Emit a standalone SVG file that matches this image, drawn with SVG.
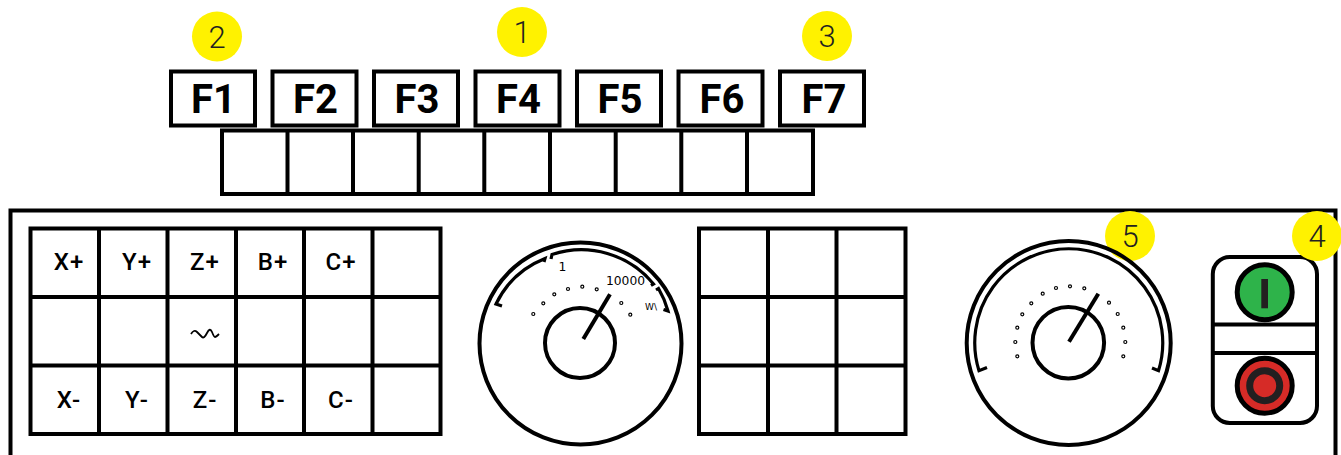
<svg xmlns="http://www.w3.org/2000/svg" width="1341" height="455" viewBox="0 0 1341 455">
<style>
.b{fill:#fff;stroke:#000;stroke-width:4}
.l{fill:none;stroke:#000;stroke-width:4}
.t{fill:none;stroke:#000;stroke-width:3.200}
.f{font-family:Roboto,"Liberation Sans",sans-serif;font-weight:700;font-size:40px;text-anchor:middle;fill:#000}
.k{font-family:Roboto,"Liberation Sans",sans-serif;font-weight:500;font-size:24px;text-anchor:middle;fill:#000;letter-spacing:1px}
.n{font-family:Roboto,"Liberation Sans",sans-serif;font-weight:300;font-size:31px;text-anchor:middle;fill:#231f20}
.s{font-family:"DejaVu Sans",sans-serif;font-size:12.300px;text-anchor:middle;fill:#000}
.w{font-size:9px}
.d{fill:#fff;stroke:#000;stroke-width:1.200}
.y{fill:#fff200}
</style>
<rect width="1341" height="455" fill="#fff"/>
<g id="panel"><path class="l" d="M10.500 460V210.500H1335.500V460"/></g>
<g id="fkeys">
<g id="f1"><rect class="b" x="171" y="71.500" width="84" height="54"/><text class="f" x="213.500" y="113">F1</text></g>
<g id="f2"><rect class="b" x="272.500" y="71.500" width="84" height="54"/><text class="f" x="315.500" y="113">F2</text></g>
<g id="f3"><rect class="b" x="374" y="71.500" width="84" height="54"/><text class="f" x="417" y="113">F3</text></g>
<g id="f4"><rect class="b" x="475.500" y="71.500" width="84" height="54"/><text class="f" x="518.500" y="113">F4</text></g>
<g id="f5"><rect class="b" x="577" y="71.500" width="84" height="54"/><text class="f" x="620" y="113">F5</text></g>
<g id="f6"><rect class="b" x="678.500" y="71.500" width="84" height="54"/><text class="f" x="722" y="113">F6</text></g>
<g id="f7"><rect class="b" x="780" y="71.500" width="84" height="54"/><text class="f" x="824" y="113">F7</text></g>
</g>
<g id="softkeys"><rect class="b" x="222" y="130.500" width="591" height="63.500"/><path class="l" d="M287.500 130V194M353 130V194M418.700 130V194M484.300 130V194M550 130V194M615.700 130V194M681.300 130V194M747 130V194"/></g>
<g id="axis-grid"><rect class="b" x="30.500" y="228.500" width="410" height="205.500"/><path class="l" d="M99 228V434M167.500 228V434M236 228V434M304 228V434M372.500 228V434M30 297H441M30 365.500H441"/>
<text class="k" x="69" y="270">X+</text><text class="k" x="137" y="270">Y+</text><text class="k" x="205" y="270">Z+</text><text class="k" x="273" y="270">B+</text><text class="k" x="341" y="270">C+</text>
<text class="k" x="69" y="408">X-</text><text class="k" x="137" y="408">Y-</text><text class="k" x="205" y="408">Z-</text><text class="k" x="273" y="408">B-</text><text class="k" x="341" y="408">C-</text>
<path fill="none" stroke="#000" stroke-width="1.800" d="M191 334Q194 329 197 332T202 337 207 333 212 332 215 337 219 334"/></g>
<g id="right-grid"><rect class="b" x="699" y="228.500" width="206.500" height="205.500"/><path class="l" d="M768 228V434M836.500 228V434M699 297H906M699 365.500H906"/></g>
<g id="gauge-left"><circle class="b" cx="580.500" cy="343.500" r="101"/><circle class="l" cx="580" cy="343" r="35"/>
<path class="t" d="M502 306L496 304A92 92 0 0 1 545 258.500L544 262M551 259L552 254.500A93 93 0 0 1 653.500 284L651 285.500M656 290L658.500 288.500A94 94 0 0 1 668 311L663.500 309.500"/>
<path class="l" d="M583.300 339L610 294.300"/>
<g class="d"><circle cx="533.300" cy="314" r="1.500"/><circle cx="543.300" cy="303.300" r="1.500"/><circle cx="554.300" cy="294.300" r="1.500"/><circle cx="568" cy="289" r="1.500"/><circle cx="582.300" cy="286.700" r="1.500"/><circle cx="596.700" cy="289.300" r="1.500"/><circle cx="621.300" cy="303" r="1.500"/><circle cx="630.300" cy="314.700" r="1.500"/></g>
<text class="s" x="562.500" y="271">1</text><text class="s" x="625.500" y="285">10000</text><text class="s w" x="651" y="310">W\</text></g>
<g id="badge-5"><circle class="y" cx="1130" cy="236" r="25"/><text class="n" x="1130" y="247">5</text></g>
<g id="gauge-right"><circle cx="1068.700" cy="343" r="102" fill="none" stroke="#000" stroke-width="4"/><circle class="l" cx="1068.300" cy="342.700" r="35.800"/>
<path class="t" d="M987 367.500L979 370.700A94 94 0 1 1 1158.500 370.700L1152 368"/>
<path class="l" d="M1069 341.700L1098.300 293.700"/>
<g class="d"><circle cx="1017.300" cy="356.300" r="1.500"/><circle cx="1015.300" cy="342" r="1.500"/><circle cx="1017.300" cy="327.700" r="1.500"/><circle cx="1022.300" cy="314.300" r="1.500"/><circle cx="1031.300" cy="303.300" r="1.500"/><circle cx="1042.700" cy="293.700" r="1.500"/><circle cx="1056" cy="288" r="1.500"/><circle cx="1070" cy="286.300" r="1.500"/><circle cx="1084.300" cy="288.300" r="1.500"/><circle cx="1109" cy="302.700" r="1.500"/><circle cx="1117.700" cy="314" r="1.500"/><circle cx="1123.300" cy="327.700" r="1.500"/><circle cx="1125.300" cy="342" r="1.500"/><circle cx="1123.300" cy="356.300" r="1.500"/></g></g>
<g id="buttons"><rect class="b" x="1212.800" y="257" width="104.200" height="166" rx="17"/><path class="l" d="M1212 324.500H1318M1212 353H1318"/>
<circle cx="1264.700" cy="292.300" r="27.500" fill="#2eb34a" stroke="#000" stroke-width="5"/><rect x="1261.300" y="279" width="6.700" height="29.300" fill="#231f20"/>
<circle cx="1264.700" cy="385.700" r="27.500" fill="#d62b27" stroke="#000" stroke-width="5"/><circle cx="1264.700" cy="385.700" r="15" fill="#d62b27" stroke="#231f20" stroke-width="7"/></g>
<g id="badge-1"><circle class="y" cx="522" cy="32" r="25"/><text class="n" x="522" y="43">1</text></g>
<g id="badge-2"><circle class="y" cx="217" cy="36.500" r="25"/><text class="n" x="217" y="47.500">2</text></g>
<g id="badge-3"><circle class="y" cx="827" cy="36" r="25"/><text class="n" x="827" y="47">3</text></g>
<g id="badge-4"><circle class="y" cx="1317" cy="236" r="25"/><text class="n" x="1317" y="247">4</text></g>
</svg>
